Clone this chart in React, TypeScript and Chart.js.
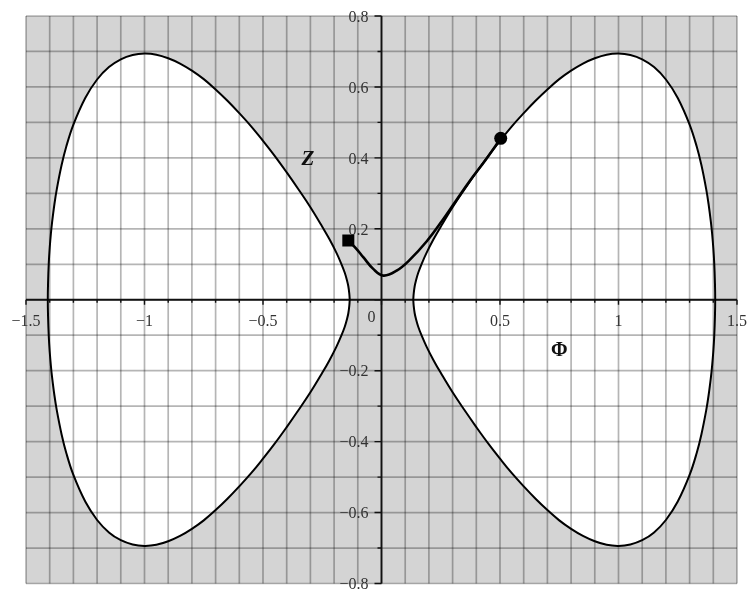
import { useEffect, useRef } from 'react';
import { Chart, registerables } from 'chart.js';

Chart.register(...registerables);

// Upper half of the right-hand level curve, from its inner tip to its outer tip.
const loopPhi = [
  0.134, 0.136, 0.14, 0.145, 0.155, 0.17, 0.19, 0.22, 0.25, 0.3,
  0.35, 0.4, 0.45, 0.5, 0.55, 0.6, 0.65, 0.7, 0.75, 0.8,
  0.85, 0.9, 0.95, 1.0, 1.05, 1.1, 1.15, 1.2, 1.25, 1.3,
  1.33, 1.35, 1.37, 1.38, 1.39, 1.395, 1.4, 1.404, 1.407, 1.408,
];
const loopZ = [
  0, 0.018, 0.038, 0.053, 0.076, 0.102, 0.132, 0.171, 0.206, 0.261,
  0.311, 0.359, 0.405, 0.448, 0.489, 0.526, 0.561, 0.593, 0.622, 0.646,
  0.666, 0.681, 0.691, 0.694, 0.69, 0.678, 0.656, 0.621, 0.569, 0.494,
  0.432, 0.379, 0.312, 0.27, 0.218, 0.186, 0.146, 0.102, 0.046, 0,
];

// Trajectory from the square marker to the round marker.
const pathPhi = [-0.14, -0.105, -0.077, -0.035, 0.008, 0.064, 0.12, 0.191, 0.255, 0.315, 0.37, 0.44, 0.503];
const pathZ = [0.167, 0.143, 0.12, 0.087, 0.068, 0.082, 0.113, 0.165, 0.222, 0.28, 0.333, 0.395, 0.455];

const startPhi = [-0.14];
const startZ = [0.167];
const endPhi = [0.503];
const endZ = [0.455];

// Axis ranges and tick labels.
const phiRange = [-1.5, 1.5];
const zRange = [-0.8, 0.8];
const xTickValues = [-1.5, -1, -0.5, 0.5, 1, 1.5];
const xTickLabels = ['\u22121.5', '\u22121', '\u22120.5', '0.5', '1', '1.5'];
const yTickValues = [0.8, 0.6, 0.4, 0.2, -0.2, -0.4, -0.6, -0.8];
const yTickLabels = ['0.8', '0.6', '0.4', '0.2', '\u22120.2', '\u22120.4', '\u22120.6', '\u22120.8'];
const zeroLabel = '0';
const xTitle = '\u03A6';
const yTitle = 'Z';

const SERIF = "'Liberation Serif', 'Times New Roman', serif";

type Pt = { x: number; y: number };

function upperArc(sign: number): Pt[] {
  return loopPhi.map((p, i) => ({ x: sign * p, y: loopZ[i] }));
}

function closedLoop(sign: number): Pt[] {
  const upper = upperArc(sign);
  const lower = upper
    .slice(0, -1)
    .reverse()
    .map((p) => ({ x: p.x, y: -p.y }));
  return [...upper, ...lower];
}

function zip(xs: number[], ys: number[]): Pt[] {
  return xs.map((x, i) => ({ x, y: ys[i] }));
}

const paperPlugin = {
  id: 'paper',
  beforeDraw(chart: any) {
    const { ctx, chartArea: a } = chart;
    chart.$gridDone = false;
    ctx.save();
    ctx.fillStyle = '#d4d4d4';
    ctx.fillRect(a.left, a.top, a.right - a.left, a.bottom - a.top);
    ctx.restore();
  },
  beforeDatasetDraw(chart: any, args: any) {
    if (chart.$gridDone) return;
    const ds = chart.data.datasets[args.index];
    if ((ds.order ?? 0) > 2) return;
    chart.$gridDone = true;
    const { ctx, chartArea: a } = chart;
    const xs = chart.scales.x;
    const ys = chart.scales.y;
    ctx.save();
    // grid every 0.1 in both directions
    ctx.strokeStyle = 'rgba(0,0,0,0.29)';
    ctx.lineWidth = 1.7;
    for (let k = Math.round(phiRange[0] * 10); k <= Math.round(phiRange[1] * 10); k++) {
      const px = xs.getPixelForValue(k / 10);
      ctx.beginPath();
      ctx.moveTo(px, a.top);
      ctx.lineTo(px, a.bottom);
      ctx.stroke();
    }
    for (let k = Math.round(zRange[0] * 10); k <= Math.round(zRange[1] * 10); k++) {
      const py = ys.getPixelForValue(k / 10);
      ctx.beginPath();
      ctx.moveTo(a.left, py);
      ctx.lineTo(a.right, py);
      ctx.stroke();
    }

    const x0 = xs.getPixelForValue(0);
    const y0 = ys.getPixelForValue(0);

    // axes through the origin
    ctx.strokeStyle = '#111';
    ctx.lineWidth = 1.8;
    ctx.beginPath();
    ctx.moveTo(a.left, y0);
    ctx.lineTo(a.right, y0);
    ctx.moveTo(x0, a.top);
    ctx.lineTo(x0, a.bottom);
    ctx.stroke();

    // tick marks
    ctx.lineWidth = 1.4;
    ctx.beginPath();
    for (let k = Math.round(phiRange[0] * 10); k <= Math.round(phiRange[1] * 10); k++) {
      const px = xs.getPixelForValue(k / 10);
      const len = k % 5 === 0 ? 5 : 3;
      ctx.moveTo(px, y0);
      ctx.lineTo(px, y0 + len);
    }
    for (let k = Math.round(zRange[0] * 10); k <= Math.round(zRange[1] * 10); k++) {
      const py = ys.getPixelForValue(k / 10);
      const len = k % 2 === 0 ? 7 : 4;
      ctx.moveTo(x0, py);
      ctx.lineTo(x0 - len, py);
    }
    ctx.stroke();

    // tick labels
    ctx.fillStyle = '#333';
    ctx.font = `16px ${SERIF}`;
    ctx.textBaseline = 'middle';
    ctx.textAlign = 'center';
    xTickValues.forEach((v, i) => {
      ctx.fillText(xTickLabels[i], xs.getPixelForValue(v), y0 + 22);
    });
    ctx.fillText(zeroLabel, x0 - 10, y0 + 18);
    ctx.textAlign = 'right';
    yTickValues.forEach((v, i) => {
      ctx.fillText(yTickLabels[i], x0 - 13, ys.getPixelForValue(v) + 1.5);
    });

    // axis names
    ctx.fillStyle = '#111';
    ctx.textAlign = 'center';
    ctx.font = `italic bold 21px ${SERIF}`;
    ctx.fillText(yTitle, xs.getPixelForValue(-0.31), ys.getPixelForValue(0.396));
    ctx.font = `bold 20px ${SERIF}`;
    ctx.fillText(xTitle, xs.getPixelForValue(0.75), ys.getPixelForValue(-0.143));
    ctx.restore();
  },
};

export default function App() {
  const canvasRef = useRef<HTMLCanvasElement | null>(null);

  useEffect(() => {
    document.body.style.margin = '0';
    const canvas = canvasRef.current;
    if (!canvas) return;

    const rightLoop = closedLoop(1);
    const leftLoop = closedLoop(-1);

    const fillSet = (data: Pt[]) => ({
      data,
      showLine: true,
      fill: 'shape',
      backgroundColor: '#ffffff',
      borderColor: 'rgba(0,0,0,0)',
      borderWidth: 0,
      pointRadius: 0,
      tension: 0.4,
      order: 3,
    });
    const outlineSet = (data: Pt[]) => ({
      data,
      showLine: true,
      fill: false,
      borderColor: '#000',
      borderWidth: 2,
      pointRadius: 0,
      tension: 0.4,
      borderJoinStyle: 'round',
      order: 2,
    });

    const chart = new Chart(canvas, {
      type: 'scatter',
      data: {
        datasets: [
          fillSet(rightLoop),
          fillSet(leftLoop),
          outlineSet(rightLoop),
          outlineSet(leftLoop),
          {
            data: zip(pathPhi, pathZ),
            showLine: true,
            fill: false,
            borderColor: '#000',
            borderWidth: 2.6,
            pointRadius: 0,
            tension: 0.4,
            order: 1,
          },
          {
            data: zip(startPhi, startZ),
            showLine: false,
            pointStyle: 'rect',
            pointRadius: 8.5,
            pointBackgroundColor: '#000',
            pointBorderWidth: 0,
            order: 0,
          },
          {
            data: zip(endPhi, endZ),
            showLine: false,
            pointStyle: 'circle',
            pointRadius: 6.5,
            pointBackgroundColor: '#000',
            pointBorderWidth: 0,
            order: 0,
          },
        ] as any,
      },
      options: {
        animation: false,
        responsive: false,
        events: [],
        layout: { padding: { left: 26, top: 16, right: 10, bottom: 6 } },
        plugins: {
          legend: { display: false },
          tooltip: { enabled: false },
        },
        scales: {
          x: { type: 'linear', min: phiRange[0], max: phiRange[1], display: false },
          y: { type: 'linear', min: zRange[0], max: zRange[1], display: false },
        },
      },
      plugins: [paperPlugin],
    });

    return () => chart.destroy();
  }, []);

  return <canvas ref={canvasRef} width={747} height={592} style={{ display: 'block' }} />;
}
